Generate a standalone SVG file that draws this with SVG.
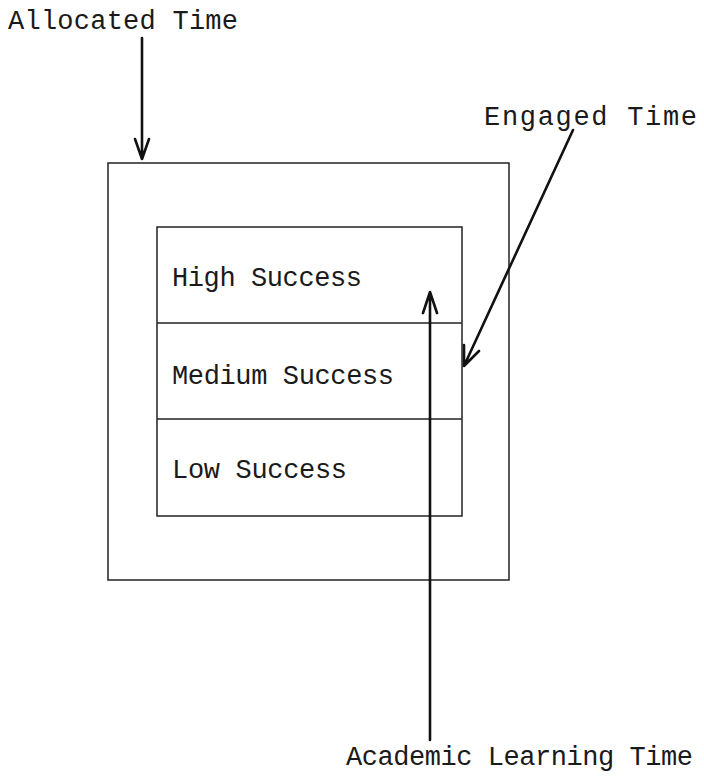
<svg xmlns="http://www.w3.org/2000/svg" width="704" height="777" viewBox="0 0 704 777">
<style>
.t{font-family:"Liberation Mono","Courier New",monospace;font-size:27px;fill:#1a1a1a}
.box{fill:none;stroke:#222;stroke-width:1.5}
.arr{fill:none;stroke:#111;stroke-width:2.6;stroke-linecap:round;stroke-linejoin:round}
</style>
<rect width="704" height="777" fill="#fff"/>
<g id="allocated">
<rect class="box" x="108" y="163" width="401" height="417"/>
<text class="t" x="8" y="29" textLength="230">Allocated Time</text>
</g>
<g id="engaged">
<rect class="box" x="157" y="227" width="305" height="289"/>
<text class="t" x="484" y="125" textLength="213">Engaged Time</text>
</g>
<g id="high">
<line class="box" x1="157" y1="323" x2="462" y2="323"/>
<text class="t" x="172" y="286" textLength="190">High Success</text>
</g>
<g id="medium">
<line class="box" x1="157" y1="419" x2="462" y2="419"/>
<text class="t" x="172" y="384" textLength="222">Medium Success</text>
</g>
<g id="low">
<text class="t" x="172" y="478" textLength="175">Low Success</text>
</g>
<g id="academic">
<text class="t" x="346" y="765" textLength="347">Academic Learning Time</text>
</g>
<g id="connectors">
<path class="arr" d="M142 38 L142 159 M135 139 L142 159 L149 139"/>
<path class="arr" d="M573 130 L464 366 M464 345 L464 366 L479 351"/>
<path class="arr" d="M430 740 L430 292 M423 313 L430 292 L437 313"/>
</g>
</svg>
